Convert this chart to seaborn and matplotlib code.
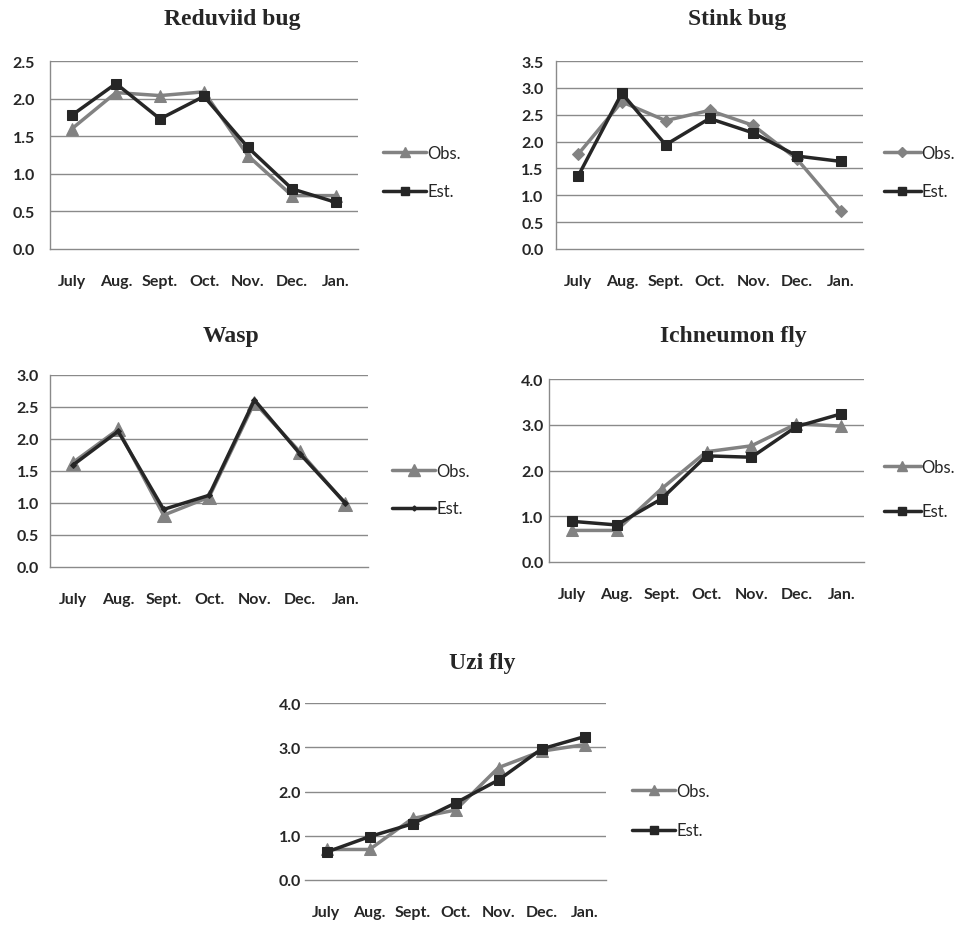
import numpy as np
import pandas as pd
import matplotlib
matplotlib.use("Agg")
import matplotlib.pyplot as plt
import seaborn as sns
from matplotlib.lines import Line2D
from matplotlib.font_manager import FontProperties, fontManager

sns.set_style("white")
plt.rcParams['font.family'] = ['Lato', 'DejaVu Sans']

months = ["July", "Aug.", "Sept.", "Oct.", "Nov.", "Dec.", "Jan."]

reduviid_obs = [1.60, 2.08, 2.04, 2.09, 1.24, 0.71, 0.71]
reduviid_est = [1.78, 2.20, 1.73, 2.03, 1.35, 0.80, 0.62]

stink_obs = [1.76, 2.74, 2.39, 2.58, 2.30, 1.67, 0.71]
stink_est = [1.35, 2.90, 1.94, 2.43, 2.16, 1.73, 1.63]

wasp_obs = [1.63, 2.15, 0.81, 1.09, 2.57, 1.80, 0.99]
wasp_est = [1.59, 2.12, 0.90, 1.12, 2.61, 1.77, 1.00]

ichneumon_obs = [0.69, 0.69, 1.60, 2.41, 2.54, 3.02, 2.97]
ichneumon_est = [0.89, 0.81, 1.38, 2.32, 2.29, 2.96, 3.24]

uzi_obs = [0.69, 0.69, 1.39, 1.58, 2.54, 2.91, 3.06]
uzi_est = [0.63, 0.98, 1.27, 1.74, 2.26, 2.96, 3.24]

W, H = 958, 928
fig = plt.figure(figsize=(W / 100, H / 100), dpi=100)

OBS_C = "#828282"
EST_C = "#262626"
GRID_C = "#8a8a8a"
TICK_FS = 11.5

installed = {f.name for f in fontManager.ttflist}
if "Liberation Sans Narrow" in installed:
    LEG_FAMILY = ["Liberation Sans Narrow"]
    LEG_FS = 13
else:
    LEG_FAMILY = ["Lato"]
    LEG_FS = 12


def rect(l, t, r, b):
    return [l / W, 1 - b / H, (r - l) / W, (b - t) / H]


panels = [
    dict(title="Reduviid bug", obs=reduviid_obs, est=reduviid_est,
         box=(50, 62, 358, 250), ymax=2.5, step=0.5, title_xy=(232, 20),
         obs_m="^", est_m="s", obs_ms=8.5, est_ms=7,
         leg=(383, 158, 197), hl=2.6, ypad=11, spine=True),
    dict(title="Stink bug", obs=stink_obs, est=stink_est,
         box=(556, 62, 863, 250), ymax=3.5, step=0.5, title_xy=(737, 20),
         obs_m="D", est_m="s", obs_ms=6.5, est_ms=7,
         leg=(884, 158, 197), hl=2.2, ypad=9, spine=True),
    dict(title="Wasp", obs=wasp_obs, est=wasp_est,
         box=(50, 376, 368, 568), ymax=3.0, step=0.5, title_xy=(231, 337),
         obs_m="^", est_m="D", obs_ms=9.5, est_ms=3,
         leg=(392, 476, 514), hl=2.6, ypad=8, spine=True),
    dict(title="Ichneumon fly", obs=ichneumon_obs, est=ichneumon_est,
         box=(549, 380, 864, 563), ymax=4.0, step=1.0, title_xy=(733, 337),
         obs_m="^", est_m="s", obs_ms=8.5, est_ms=7,
         leg=(884, 472, 517), hl=2.2, ypad=4, spine=True),
    dict(title="Uzi fly", obs=uzi_obs, est=uzi_est,
         box=(305, 704, 606, 881), ymax=4.0, step=1.0, title_xy=(482, 663),
         obs_m="^", est_m="s", obs_ms=8.5, est_ms=7,
         leg=(632, 796, 836), hl=2.6, ypad=3, spine=False),
]

x_idx = np.arange(len(months))

for p in panels:
    ax = fig.add_axes(rect(*p["box"]))
    df = pd.DataFrame({"x": x_idx, "Obs.": p["obs"], "Est.": p["est"]})
    sns.lineplot(data=df, x="x", y="Obs.", ax=ax, color=OBS_C, lw=2.5,
                 marker=p["obs_m"], markersize=p["obs_ms"], markeredgecolor=OBS_C,
                 markerfacecolor=OBS_C, zorder=3)
    sns.lineplot(data=df, x="x", y="Est.", ax=ax, color=EST_C, lw=2.5,
                 marker=p["est_m"], markersize=p["est_ms"], markeredgecolor=EST_C,
                 markerfacecolor=EST_C, zorder=4)
    ax.set_xlim(-0.5, len(months) - 0.5)
    ax.set_ylim(0, p["ymax"])
    yt = np.arange(0, p["ymax"] + 1e-9, p["step"])
    ax.set_yticks(yt)
    ax.set_yticklabels([f"{v:.1f}" for v in yt], fontsize=TICK_FS, fontweight="bold")
    ax.set_xticks(x_idx)
    ax.set_xticklabels(months, fontsize=TICK_FS, fontweight="bold")
    ax.tick_params(axis="x", length=0, pad=18)
    ax.tick_params(axis="y", length=0, pad=p["ypad"])
    ax.set_xlabel("")
    ax.set_ylabel("")
    for v in yt[1:]:
        ax.axhline(v, color=GRID_C, lw=1.0, zorder=1)
    for s in ["top", "right"]:
        ax.spines[s].set_visible(False)
    ax.spines["bottom"].set_color(GRID_C)
    ax.spines["bottom"].set_linewidth(1.0)
    if p["spine"]:
        ax.spines["left"].set_color(GRID_C)
        ax.spines["left"].set_linewidth(1.0)
    else:
        ax.spines["left"].set_visible(False)

    fig.text(p["title_xy"][0] / W, 1 - p["title_xy"][1] / H, p["title"],
             family=["Liberation Serif", "DejaVu Serif"], fontweight="bold",
             fontsize=17, ha="center", va="center")

    lx, ly1, ly2 = p["leg"]
    handles = [
        Line2D([0], [0], color=OBS_C, lw=2.5, marker=p["obs_m"],
               markersize=p["obs_ms"] * 0.85, markerfacecolor=OBS_C, markeredgecolor=OBS_C),
        Line2D([0], [0], color=EST_C, lw=2.5, marker=p["est_m"],
               markersize=p["est_ms"] * 0.85, markerfacecolor=EST_C, markeredgecolor=EST_C),
    ]
    spacing_pt = (ly2 - ly1) * 0.72
    fig.legend(handles, ["Obs.", "Est."], loc="upper left",
               bbox_to_anchor=(lx / W, 1 - (ly1 - 12) / H),
               frameon=False, prop=FontProperties(family=LEG_FAMILY, size=LEG_FS),
               handlelength=p["hl"],
               handletextpad=0.05, borderpad=0, borderaxespad=0,
               labelspacing=(spacing_pt - LEG_FS) / LEG_FS)

fig.savefig("out.png", dpi=100, facecolor="white")
